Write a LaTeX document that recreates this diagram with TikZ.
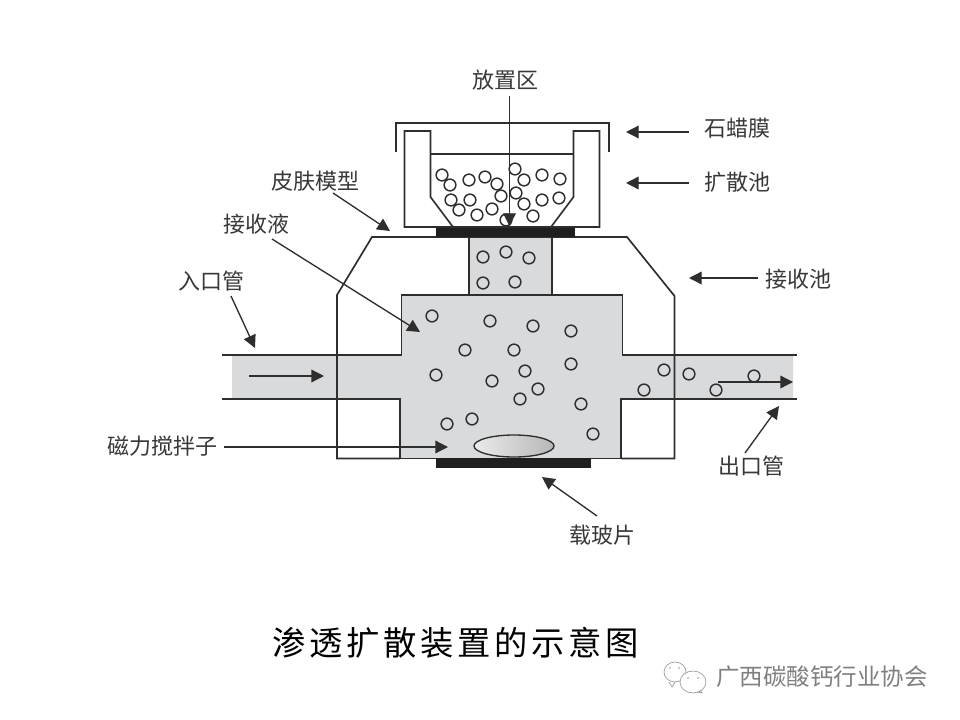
\documentclass[tikz,border=0pt]{standalone}
\usepackage{fontspec}
\setmainfont{Noto Sans CJK SC}
\newfontfamily\titlefont[LetterSpace=11]{Noto Sans CJK SC}
\usetikzlibrary{arrows.meta,shapes.geometric,shadings}
\definecolor{ink}{HTML}{2E2E2E}
\definecolor{liquid}{HTML}{D9DADC}
\tikzset{
  x=0.75pt,y=-0.75pt,
  wall/.style={draw=ink,line width=1.25pt,line join=miter},
  liquidfill/.style={fill=liquid,draw=none},
  lead/.style={draw=ink,line width=1pt,-{Triangle[length=9.5pt,width=9.5pt]}},
  bead/.style={circle,draw=ink,line width=1.1pt,fill=none,minimum size=8.8pt,inner sep=0pt},
  plate/.style={fill=black!88,draw=none},
  lab/.style={inner sep=0pt,text=black!78,font=\fontsize{16.5pt}{18pt}\selectfont},
}
\begin{document}
\begin{tikzpicture}
\useasboundingbox (0,0) rectangle (960,720);
\fill[white] (0,0) rectangle (960,720);
% liquid
\fill[liquidfill] (469,237) -- (552,237) -- (552,295) -- (622.5,295) -- (622.5,355) -- (793,355) -- (793,399) -- (621,399) -- (621,458) -- (400,458) -- (400,399) -- (232,399) -- (232,355) -- (401.5,355) -- (401.5,295) -- (469,295) -- cycle;
% chamber walls
\draw[wall] (469,237) -- (469,295);
\draw[wall] (552,237) -- (552,295);
\draw[wall] (222,355) -- (401.5,355) -- (401.5,295) -- (622.5,295) -- (622.5,355) -- (797,355);
\draw[wall] (222,399) -- (400,399) -- (400,458.5) -- (436,458.5);
\draw[wall] (797,399) -- (621,399) -- (621,458.5) -- (591,458.5);
% receiving cell outline
\draw[wall] (400,458.5) -- (337,458.5) -- (337,295) -- (372,237) -- (627,237) -- (674.5,296) -- (674.5,458.5) -- (621,458.5);
% diffusion cell
\draw[wall] (396,152) -- (396,123) -- (609,123) -- (609,152);
\draw[wall] (453,227) -- (404.5,227) -- (404.5,131) -- (430.5,131) -- (430.5,197) -- (453,227) -- (551,227) -- (573.5,197) -- (573.5,131) -- (599.5,131) -- (599.5,227) -- (551,227);
\draw[wall] (430.5,154) -- (573.5,154);
% plates and stirrer
\fill[plate] (436,228) rectangle (575,237);
\fill[plate] (436,458) rectangle (591,468);
\node[ellipse,draw=ink,line width=1pt,left color=black!8,right color=black!28,minimum width=60pt,minimum height=16.5pt,inner sep=0pt] (stirrer) at (514,446) {};
% beads
\foreach \i/\px/\py in {
a1/442/175,a2/450/185,a3/469/180,a4/485/177,a5/497/184,a6/501/196,a7/451/200,a8/470/200,
a9/459/210,a10/477/215,a11/492/209,a12/515/169,a13/524/180,a14/542/175,a15/560/179,a16/516/193,
a17/524/204,a18/542/200,a19/559/198,a20/533/216,a21/506/220,
b1/483/257,b2/506/252,b3/529/258,b4/483/283,b5/515/282,
c1/432/316,c2/490/321,c3/465/350,c4/514/350,c5/436/375,c6/492/381,c7/447/424,c8/472/419,
c9/533/326,c10/571/331,c11/571/364,c12/525/371,c13/538/389,c14/520/399,c15/581/404,c16/593/434,
c17/644/390,c18/664/370,c19/689/374,c20/716/390,c21/754/376}
  \node[bead] (\i) at (\px,\py) {};
% labels
\node[lab] (zone) at (505.5,80) {放置区};
\node[lab] (paraffin) at (737,128) {石蜡膜};
\node[lab] (diffcell) at (737,182) {扩散池};
\node[lab] (skin) at (315,181) {皮肤模型};
\node[lab] (recvliq) at (256,224) {接收液};
\node[lab] (recvcell) at (798,279) {接收池};
\node[lab] (inlet) at (211,281) {入口管};
\node[lab] (stirlab) at (162,446) {磁力搅拌子};
\node[lab] (outlet) at (751,466) {出口管};
\node[lab] (slide) at (602,535) {载玻片};
\node[inner sep=0pt,font=\titlefont\fontsize{25pt}{28pt}\selectfont,text=black] (title) at (456,643) {渗透扩散装置的示意图};
\node[inner sep=0pt,text=black!50,font=\fontsize{17.6pt}{20pt}\selectfont] (mark) at (822,677) {广西碳酸钙行业协会};
% wechat mark
\draw[draw=black!40,line width=0.5pt] (675,672) ellipse [x radius=11,y radius=10];
\draw[draw=black!40,line width=0.5pt] (669,682) -- (672,687) -- (675,682);
\draw[draw=black!40,fill=white,line width=0.5pt] (693,682) ellipse [x radius=13,y radius=11];
\draw[draw=black!40,line width=0.5pt] (697,692) -- (702,693) -- (700,690);
\fill[black!40] (670,668) circle [radius=0.9] (679,668) circle [radius=0.9] (688,678) circle [radius=0.9] (698,678) circle [radius=0.9];
% arrow ends
\coordinate (zoneS) at (509.5,96);   \coordinate (zoneE) at (509.5,226);
\coordinate (parS) at (689,132);     \coordinate (parE) at (626,132);
\coordinate (difS) at (689,183);     \coordinate (difE) at (626,183);
\coordinate (skinS) at (333,193);    \coordinate (skinE) at (390,231);
\coordinate (liqS) at (272,239);     \coordinate (liqE) at (420,332);
\coordinate (celS) at (758,278);     \coordinate (celE) at (689,278);
\coordinate (inS) at (231,296);      \coordinate (inE) at (255,348);
\coordinate (stS) at (224,447);      \coordinate (stE) at (448,447);
\coordinate (outS) at (745,453);     \coordinate (outE) at (779,406);
\coordinate (slS) at (597,516);      \coordinate (slE) at (542,477);
\coordinate (flowAS) at (249,376);   \coordinate (flowAE) at (324,376);
\coordinate (flowBS) at (718,382);   \coordinate (flowBE) at (793,382);
\foreach \s/\e in {zoneS/zoneE,parS/parE,difS/difE,skinS/skinE,liqS/liqE,celS/celE,inS/inE,stS/stE,outS/outE,slS/slE,flowAS/flowAE,flowBS/flowBE}
  \draw[lead] (\s) -- (\e);
\end{tikzpicture}
\end{document}
